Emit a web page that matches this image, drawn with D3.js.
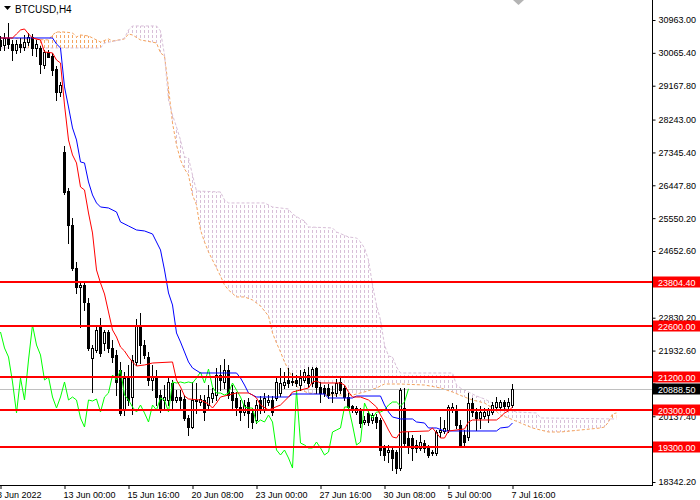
<!DOCTYPE html>
<html><head><meta charset="utf-8">
<script src="https://cdn.jsdelivr.net/npm/d3@7"></script>
<style>
html,body{margin:0;padding:0;background:#fff;overflow:hidden;}
svg{display:block;}
text{font-family:"Liberation Sans",Arial,sans-serif;}
</style></head><body>
<svg id="c" width="700" height="500"></svg>
<script>
const symbolTitle = "BTCUSD,H4";
// OHLC per H4 bar [open, high, low, close]
const candles = [
[30417,30526,30144,30253],[30281,30608,30144,30472],[30472,30882,30199,30308],[30308,30417,29871,30144],
[30144,30417,30062,30308],[30308,30472,30089,30226],[30226,30554,30144,30363],[30363,30608,30281,30499],
[30499,30581,30007,30199],[30199,30417,29980,30308],[30199,30253,29516,29762],[29734,30144,29652,30089],
[30089,30144,30007,29953],[29980,30062,29461,29598],[29625,29707,28778,28997],[28997,29270,28887,29188],
[27357,27521,26209,26264],[26292,26374,24871,25363],[25363,25554,24134,24188],[24188,24352,23505,23669],
[23669,23806,22576,23724],[23724,23806,23041,23259],[23232,23369,21948,22003],[21729,22085,20801,22003],
[21948,22631,21893,22494],[22631,22823,21784,21866],[22139,22494,21948,22440],[22440,22494,21893,22003],
[22003,22221,21620,21757],[21811,21948,20718,21074],[21402,21620,20172,20227],[20309,21347,20172,21183],
[21183,21538,20445,20582],[20664,21812,20199,21675],[21620,22795,21538,22631],[22631,22959,21593,22085],
[22085,22221,21729,21812],[21757,21893,20992,21128],[21128,21538,20855,21210],[21183,21402,20445,20664],
[20718,20855,20254,20363],[20582,20992,20363,20664],[20582,21183,20445,21074],[21046,21128,20363,20582],
[20582,20855,20527,20664],[20664,20855,20363,20582],[20609,20718,20036,20090],[20090,20172,19626,19844],
[19844,21074,19817,20582],[20582,21046,20227,20555],[20527,20718,20445,20609],[20582,20718,20036,20254],
[20445,20992,20363,20664],[20637,20910,20527,20773],[20718,21456,20582,21265],[21265,21538,20855,21128],
[21074,21702,20910,21402],[21402,21538,20637,20718],[20801,20992,20309,20582],[20637,20801,20172,20391],
[20391,20582,20036,20254],[20254,20582,20172,20445],[20527,20637,19844,20227],[20227,20363,19817,19981],
[20036,20582,19953,20445],[20582,20691,20227,20309],[20309,20773,20254,20637],[20527,20718,20445,20582],
[20582,20691,20172,20254],[20637,21210,20582,21074],[20773,21456,20691,21046],[20992,21347,20910,21074],
[21128,21456,20937,21046],[21101,21320,20992,21074],[21128,21265,20965,21046],[20992,21402,20855,21183],
[21128,21429,21074,21347],[21265,21484,20937,21046],[21046,21484,20965,21429],[21456,21484,20773,20937],
[20937,21074,20527,20773],[20910,20992,20691,20773],[20910,21019,20637,20718],[20801,20965,20527,20773],
[20773,21156,20691,21046],[21074,21183,20773,20855],[20910,20992,20582,20664],[20664,20773,20309,20391],
[20418,20445,20254,20363],[20254,20418,20199,20363],[20309,20363,19844,19954],[19981,20145,19926,20036],
[20227,20309,19899,19981],[20036,20227,19954,20172],[20118,20199,19817,19981],[20036,20090,19080,19216],
[19271,19353,18943,19080],[19161,19353,18888,19216],[19216,19326,18670,18998],[19161,19216,18588,18724],
[18724,20910,18670,20855],[20364,20910,19326,19407],[19544,19708,19134,19353],[19544,19626,18943,19271],
[19353,19489,19161,19271],[19271,19626,19216,19435],[19407,19489,19161,19271],[19271,19353,19025,19080],
[19134,19216,19080,19161],[19134,19762,19080,19708],[19708,20118,19571,19762],[19735,20036,19680,19817],
[19762,20445,19708,20391],[20309,20500,20254,20391],[20309,20445,19817,19899],[19899,20036,19298,19353],
[19626,19762,19326,19435],[19571,20773,19489,20500],[20500,20637,20145,20254],[20254,20364,19762,20090],
[20090,20418,19817,20254],[20145,20364,20090,20254],[20172,20364,19981,20309],[20254,20527,20199,20445],
[20391,20664,20336,20527],[20391,20582,20364,20527],[20527,20582,20364,20418],[20418,20637,20336,20527],
[20445,21019,20391,20888.5]
];
// Ichimoku lines: [bar index, price]
const tenkanSen = [[0,30472],[3,30472],[4,30582],[5,30691],[6,30718],[7,30582],[8,30472],[10,30418],[11,30090],[13,30063],
[14,29871],[15,29789],[16,28642],[17,27686],[18,27276],[19,27057],[20,26402],[21,26320],[22,25691],[23,25145],
[24,24134],[25,23779],[26,23478],[27,22987],[28,22495],[29,22303],[30,22030],[31,21921],[32,21757],[33,21621],
[34,21511],[36,21539],[38,21593],[43,21621],[44,21129],[45,20938],[46,20692],[47,20610],[50,20582],[52,20473],
[53,20364],[54,20500],[55,20664],[57,20719],[59,20774],[62,20774],[63,20719],[64,20637],[65,20446],[67,20309],
[70,20446],[72,20664],[73,20801],[75,20856],[77,20910],[78,21074],[79,21102],[80,21047],[85,21047],[86,20992],
[87,20801],[88,20664],[90,20664],[92,20582],[94,20391],[95,20173],[96,19982],[97,19763],[98,19572],[99,19544],
[100,19708],[107,19736],[108,19818],[109,19681],[110,19544],[111,19544],[112,19736],[116,19791],[117,19982],
[118,20036],[124,20036],[125,20118],[126,20228],[127,20282],[128,20391]];
const kijunSen = [[0,30472],[13,30472],[14,30308],[15,30199],[16,29134],[17,28587],[18,28014],[19,27686],[20,27085],
[21,27057],[22,26538],[23,26183],[24,25965],[25,25855],[27,25828],[29,25719],[30,25446],[32,25336],[34,25227],
[36,25200],[38,25118],[39,24899],[40,24681],[41,24134],[42,23506],[43,23178],[44,22413],[45,22167],[46,21894],
[47,21621],[48,21457],[50,21320],[59,21320],[60,21183],[61,20992],[62,20774],[64,20664],[72,20664],[73,20746],
[81,20746],[82,20637],[88,20637],[89,20691],[95,20691],[96,20446],[97,20255],[98,20118],[100,20064],[103,20064],
[104,19982],[106,19954],[107,19818],[109,19818],[111,19736],[124,19736],[125,19818],[127,19845],[128,19954]];
const senkouA = [[0,30472],[12,30418],[13,30554],[14,30636],[16,30636],[18,30609],[19,30500],[20,30554],[22,30527],
[25,30363],[27,30445],[28,30390],[31,30445],[32,30582],[33,30554],[35,30418],[39,30336],[40,30063],[41,29981],
[42,29106],[43,28150],[44,27549],[45,27139],[46,26893],[47,26729],[48,26183],[49,25910],[50,25227],[51,24899],
[52,24626],[53,24407],[54,24189],[55,23970],[56,23724],[57,23588],[59,23397],[61,23397],[63,23315],[65,23151],
[67,22877],[68,22413],[69,22140],[70,21894],[71,21621],[72,21402],[73,21183],[74,20965],[75,20856],[77,20774],
[83,20719],[88,20719],[91,20801],[94,20910],[96,21019],[100,21019],[106,20992],[110,20910],[113,20801],[116,20664],
[118,20582],[121,20500],[123,20364],[125,20173],[127,20091],[130,19954],[133,19818],[137,19708],[140,19708],
[145,19763],[150,19818],[151,19845],[152,19982],[153,20200],[154,20228]];
const senkouB = [[0,30199],[25,30199],[26,30336],[30,30418],[31,30472],[32,30691],[33,30800],[39,30800],[40,30664],
[41,30008],[42,28778],[43,28369],[44,28041],[45,27686],[46,27221],[47,27194],[48,26729],[49,26292],[55,26265],
[56,26047],[57,25965],[66,25965],[68,25855],[72,25800],[73,25664],[75,25527],[76,25473],[77,25309],[83,25282],
[84,25172],[87,25036],[89,25008],[90,24899],[91,24735],[92,24407],[93,23724],[94,23178],[95,22768],[96,22085],
[97,21785],[98,21757],[99,21484],[100,21320],[113,21320],[114,20992],[115,20910],[117,20801],[119,20691],
[121,20610],[123,20500],[125,20418],[127,20309],[129,20255],[134,20228],[135,20091],[154,20064]];
const chikouLag = 26; // lagging span = closes plotted 26 bars back
const levelLines = [23804.40, 22600.00, 21200.00, 20300.00, 19300.00];
const bidPrice = 20888.50;
// tick values of the price scale (three of them sit under the level labels)
const yTickValues = [30963.00,30065.40,29167.80,28243.00,27345.40,26447.80,25550.20,24652.60,23727.80,22830.20,21932.60,21035.00,20137.40,19239.80,18342.20];
const yTicksHidden = [23727.80, 21035.00, 19239.80];
const xTickBars = [0,16,32,48,64,80,96,112,128];
const xTickLabels = ["8 Jun 2022","13 Jun 00:00","15 Jun 16:00","20 Jun 08:00","23 Jun 00:00","27 Jun 16:00","30 Jun 08:00","5 Jul 00:00","7 Jul 16:00"];

const plotR = 652, plotB = 485;
const x = d3.scaleLinear().domain([0, 128]).range([0, 512]);
const y = d3.scaleLinear().domain([18342.2, 30963]).range([482, 20]);
const cx = i => Math.round(x(i)) + 0.5;

const svg = d3.select("#c");
const defs = svg.append("defs");
defs.append("clipPath").attr("id","plot").append("rect").attr("x",0).attr("y",0).attr("width",plotR).attr("height",plotB);
function hatch(id, color){
  const p = defs.append("pattern").attr("id",id).attr("patternUnits","userSpaceOnUse").attr("width",4).attr("height",5);
  p.append("rect").attr("x",0).attr("y",0).attr("width",1).attr("height",3).attr("fill",color);
}
hatch("hatchB","#D8BFD8"); hatch("hatchA","#F4A460");
const above = d3.area().x(d=>cx(d[0])).y0(0).y1(d=>y(d[1]));
const below = d3.area().x(d=>cx(d[0])).y0(d=>y(d[1])).y1(plotB);
defs.append("clipPath").attr("id","aboveA").append("path").attr("d", above(senkouA));
defs.append("clipPath").attr("id","belowA").append("path").attr("d", below(senkouA));
defs.append("clipPath").attr("id","aboveB").append("path").attr("d", above(senkouB));
defs.append("clipPath").attr("id","belowB").append("path").attr("d", below(senkouB));

const plot = svg.append("g").attr("clip-path","url(#plot)");
// cloud hatch
const cloudW = cx(154) + 1;
plot.append("g").attr("clip-path","url(#aboveA)").append("g").attr("clip-path","url(#belowB)")
  .append("rect").attr("x",0).attr("y",0).attr("width",cloudW).attr("height",plotB).attr("fill","url(#hatchB)");
plot.append("g").attr("clip-path","url(#belowA)").append("g").attr("clip-path","url(#aboveB)")
  .append("rect").attr("x",0).attr("y",0).attr("width",cloudW).attr("height",plotB).attr("fill","url(#hatchA)");
const line = d3.line().x(d=>cx(d[0])).y(d=>y(d[1]));
plot.append("path").attr("d", line(senkouA)).attr("fill","none").attr("stroke","#F4A460").attr("stroke-width",1).attr("stroke-dasharray","3,2");
plot.append("path").attr("d", line(senkouB)).attr("fill","none").attr("stroke","#D8BFD8").attr("stroke-width",1).attr("stroke-dasharray","3,2");

// bid line
plot.append("line").attr("x1",0).attr("x2",plotR).attr("y1",Math.round(y(bidPrice))+0.5).attr("y2",Math.round(y(bidPrice))+0.5)
  .attr("stroke","#C0C0C0").attr("stroke-width",1);

// candles
const cg = plot.append("g").attr("shape-rendering","crispEdges");
candles.forEach((c,i)=>{
  const [o,h,l,cl] = c;
  const xc = cx(i);
  cg.append("line").attr("x1",xc).attr("x2",xc).attr("y1",Math.round(y(h))).attr("y2",Math.round(y(l))+1).attr("stroke","#000");
  const top = Math.round(y(Math.max(o,cl))), bot = Math.round(y(Math.min(o,cl)));
  cg.append("rect").attr("x",xc-1).attr("y",top+0.5).attr("width",2).attr("height",Math.max(0,bot-top))
    .attr("fill", cl >= o ? "#fff" : "#000").attr("stroke","#000").attr("stroke-width",1);
});

// indicator lines
const chikou = candles.slice(chikouLag).map((c,i)=>[i, c[3]]);
plot.append("path").attr("d", line(chikou)).attr("fill","none").attr("stroke","#00FF00").attr("stroke-width",1);
plot.append("path").attr("d", line(kijunSen)).attr("fill","none").attr("stroke","#0000FF").attr("stroke-width",1);
plot.append("path").attr("d", line(tenkanSen)).attr("fill","none").attr("stroke","#FF0000").attr("stroke-width",1);

// horizontal levels
levelLines.forEach(v=>{
  plot.append("line").attr("x1",0).attr("x2",plotR).attr("y1",Math.round(y(v))).attr("y2",Math.round(y(v)))
    .attr("stroke","#FF0000").attr("stroke-width",2);
});

// axes frame
svg.append("line").attr("x1",plotR+0.5).attr("x2",plotR+0.5).attr("y1",0).attr("y2",plotB+1).attr("stroke","#000");
svg.append("line").attr("x1",0).attr("x2",plotR+1).attr("y1",plotB+0.5).attr("y2",plotB+0.5).attr("stroke","#000");

// right axis
const fmt = d3.format(".2f");
const yAxis = d3.axisRight(y).tickValues(yTickValues)
  .tickFormat(v => yTicksHidden.includes(v) ? "" : fmt(v)).tickSize(3).tickPadding(3);
const ya = svg.append("g").attr("transform",`translate(${plotR+0.5},0)`).call(yAxis);
ya.select(".domain").remove();
ya.selectAll("text").filter(function(){ return this.textContent === ""; }).remove();
ya.selectAll("text").attr("font-size","9px").attr("fill","#000").attr("font-family","Liberation Sans, Arial, sans-serif");
ya.selectAll("line").attr("stroke","#000");

// bottom axis
const xAxis = d3.axisBottom(x).tickValues(xTickBars).tickFormat((d,i)=>xTickLabels[i]).tickSize(4).tickPadding(3);
const xa = svg.append("g").attr("transform",`translate(0.5,${plotB})`).call(xAxis);
xa.select(".domain").remove();
xa.selectAll("text").attr("font-size","9px").attr("fill","#000").attr("text-anchor","start").attr("dx","-1.5")
  .attr("font-family","Liberation Sans, Arial, sans-serif");
xa.selectAll(".tick").filter((d,i)=>i===0).select("text").attr("dx","-4");
xa.selectAll("line").attr("stroke","#000");

// price labels
function priceLabel(v, bg){
  const yy = Math.round(y(v));
  svg.append("rect").attr("x",653).attr("y",yy-5.5).attr("width",47).attr("height",11).attr("fill",bg);
  svg.append("text").attr("x",658).attr("y",yy+3.5).attr("font-size","9px").attr("fill","#fff").text(fmt(v));
}
levelLines.forEach(v=>priceLabel(v,"#FF0000"));
priceLabel(bidPrice,"#000000");

// title
svg.append("path").attr("d","M4,6 L11,6 L7.5,10 Z").attr("fill","#000");
svg.append("text").attr("x",15).attr("y",12.5).attr("font-size","10px").attr("fill","#000").text(symbolTitle);
// small grey marker at top
svg.append("path").attr("d","M513,0 L524,0 L518.5,5 Z").attr("fill","#B4B4B4");
</script>
</body></html>
